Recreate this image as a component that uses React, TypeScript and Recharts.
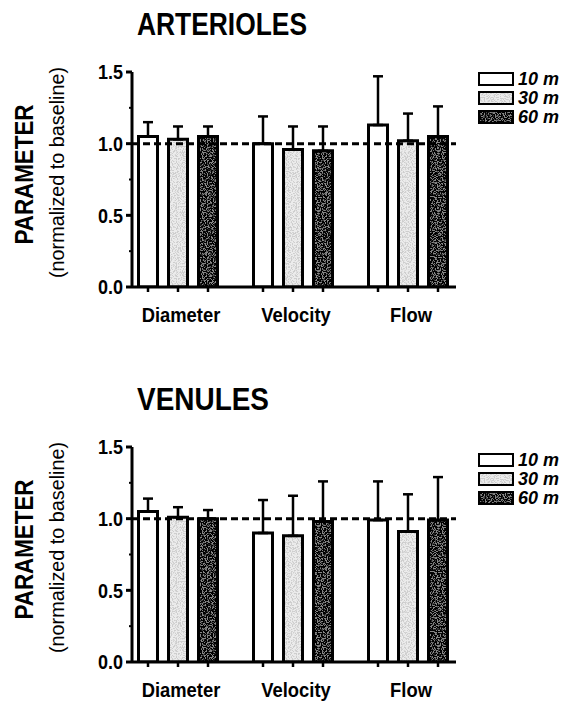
import React from "react";
import { BarChart, Bar, XAxis, YAxis, ErrorBar, ReferenceLine, Legend } from "recharts";

const FONT = "'Liberation Sans', Arial, Helvetica, sans-serif";

/* categories, legend names, y ticks */
const categories = ["Diameter", "Velocity", "Flow"];
const seriesNames = ["10 m", "30 m", "60 m"];
const yTicks = [0, 0.25, 0.5, 0.75, 1, 1.25, 1.5];

/* arterioles: mean and SD (upper error only) */
const art10 = [1.05, 1.0, 1.13];
const art10Sd = [0.1, 0.19, 0.34];
const art30 = [1.03, 0.96, 1.02];
const art30Sd = [0.09, 0.16, 0.19];
const art60 = [1.05, 0.95, 1.05];
const art60Sd = [0.07, 0.17, 0.21];

/* venules */
const ven10 = [1.05, 0.9, 0.99];
const ven10Sd = [0.09, 0.23, 0.27];
const ven30 = [1.01, 0.88, 0.91];
const ven30Sd = [0.07, 0.28, 0.26];
const ven60 = [1.0, 0.98, 0.99];
const ven60Sd = [0.06, 0.28, 0.3];

const BAR_SIZE = 19;
const BAR_GAP = 11;
const STEP = BAR_SIZE + BAR_GAP;
const fills = ["#ffffff", "url(#speckLight)", "url(#speckDark)"];

function buildRows(m: number[][], sd: number[][]) {
  return categories.map((name, i) => ({
    name,
    m10: m[0][i],
    m30: m[1][i],
    m60: m[2][i],
    e10: [0, sd[0][i]],
    e30: [0, sd[1][i]],
    e60: [0, sd[2][i]],
  }));
}

const artRows = buildRows([art10, art30, art60], [art10Sd, art30Sd, art60Sd]);
const venRows = buildRows([ven10, ven30, ven60], [ven10Sd, ven30Sd, ven60Sd]);

/* stippled fills for the grey bars */
function Grain() {
  return (
    <svg width={0} height={0} style={{ position: "absolute" }}>
      <defs>
        <filter id="grainLight" x="0" y="0" width="60" height="60" filterUnits="userSpaceOnUse">
          <feTurbulence type="fractalNoise" baseFrequency="0.8" numOctaves={2} seed={7} stitchTiles="stitch" />
          <feColorMatrix type="matrix" values="0 0 0 0 0.62  0 0 0 0 0.62  0 0 0 0 0.62  9 0 0 0 -4.3" />
        </filter>
        <filter id="grainDark" x="0" y="0" width="60" height="60" filterUnits="userSpaceOnUse">
          <feTurbulence type="fractalNoise" baseFrequency="0.8" numOctaves={2} seed={3} stitchTiles="stitch" />
          <feColorMatrix type="matrix" values="0 0 0 0 0  0 0 0 0 0  0 0 0 0 0  9 0 0 0 -3.7" />
        </filter>
        <pattern id="speckLight" width="60" height="60" patternUnits="userSpaceOnUse">
          <rect width="60" height="60" fill="#ececec" />
          <rect width="60" height="60" fill="#000" filter="url(#grainLight)" />
        </pattern>
        <pattern id="speckDark" width="60" height="60" patternUnits="userSpaceOnUse">
          <rect width="60" height="60" fill="#858585" />
          <rect width="60" height="60" fill="#000" filter="url(#grainDark)" />
        </pattern>
      </defs>
    </svg>
  );
}

const YTick = ({ x, y, payload }: any) => {
  const axisX = x + 8;
  const v = payload.value;
  const major = Math.abs(v * 2 - Math.round(v * 2)) < 1e-6;
  return (
    <g>
      <line x1={axisX - (major ? 6 : 3)} x2={axisX} y1={y} y2={y} stroke="#000" strokeWidth={major ? 3 : 2} />
      {major && (
        <text
          transform={`translate(${axisX - 9},${y}) scale(0.9,1)`}
          dy="0.36em"
          textAnchor="end"
          fontFamily={FONT}
          fontWeight="bold"
          fontSize={20}
          fill="#000"
        >
          {v.toFixed(1)}
        </text>
      )}
    </g>
  );
};

const XTick = ({ x, y, payload }: any) => {
  const axisY = y - 8;
  return (
    <g>
      {[-1, 0, 1].map((k) => (
        <line key={k} x1={x + k * STEP} x2={x + k * STEP} y1={axisY} y2={axisY + 5} stroke="#000" strokeWidth={2.5} />
      ))}
      <text
        transform={`translate(${x + 3},${axisY + 35}) scale(0.92,1)`}
        textAnchor="middle"
        fontFamily={FONT}
        fontWeight="bold"
        fontSize={20}
        fill="#000"
      >
        {payload.value}
      </text>
    </g>
  );
};

const YTitle = ({ viewBox }: any) => {
  const cy = viewBox.y + viewBox.height / 2;
  return (
    <g fill="#000" fontFamily={FONT}>
      <text
        transform={`translate(33,${cy - 5}) rotate(-90)`}
        textAnchor="middle"
        fontWeight="bold"
        fontSize={25}
        textLength={140}
        lengthAdjust="spacingAndGlyphs"
      >
        PARAMETER
      </text>
      <text
        transform={`translate(64,${cy - 7}) rotate(-90)`}
        textAnchor="middle"
        fontSize={20}
        textLength={211}
        lengthAdjust="spacingAndGlyphs"
      >
        (normalized to baseline)
      </text>
    </g>
  );
};

const LegendList = ({ payload }: any) => (
  <div style={{ fontFamily: FONT }}>
    {(payload || []).map((e: any, i: number) => (
      <div key={e.value} style={{ display: "flex", alignItems: "center", height: 19 }}>
        <svg width={36} height={14}>
          <rect x={1} y={1} width={34} height={12} fill={fills[i]} stroke="#000" strokeWidth={2} />
        </svg>
        <span style={{ marginLeft: 4, fontSize: 18, fontWeight: "bold", fontStyle: "italic", lineHeight: "19px" }}>
          {e.value}
        </span>
      </div>
    ))}
  </div>
);

function Panel({ title, titleWidth, rows, top, legendTop }: any) {
  return (
    <div style={{ position: "absolute", left: 0, top, width: 563, height: 326 }}>
      <svg width={563} height={50} style={{ position: "absolute", left: 0, top: 0 }}>
        <text x={137} y={35} fontFamily={FONT} fontWeight="bold" fontSize={32} textLength={titleWidth} lengthAdjust="spacingAndGlyphs">
          {title}
        </text>
      </svg>
      <BarChart
        width={563}
        height={326}
        data={rows}
        margin={{ top: 72, right: 107, left: 72, bottom: 0 }}
        barSize={BAR_SIZE}
        barGap={BAR_GAP}
      >
        <XAxis
          dataKey="name"
          height={39}
          padding={{ left: -11.5, right: -9.5 }}
          tickLine={false}
          tickSize={6}
          tickMargin={2}
          axisLine={{ stroke: "#000", strokeWidth: 3 }}
          tick={(p: any) => <XTick {...p} />}
          interval={0}
        />
        <YAxis
          type="number"
          domain={[0, 1.5]}
          ticks={yTicks}
          interval={0}
          allowDataOverflow
          width={60}
          tickLine={false}
          tickSize={6}
          tickMargin={2}
          axisLine={{ stroke: "#000", strokeWidth: 3 }}
          tick={(p: any) => <YTick {...p} />}
          label={{ content: (p: any) => <YTitle {...p} /> }}
        />
        <Legend
          layout="vertical"
          align="center"
          verticalAlign="middle"
          wrapperStyle={{ left: 478, top: legendTop, width: 85 }}
          content={(p: any) => <LegendList {...p} />}
        />
        {["m10", "m30", "m60"].map((key, i) => (
          <Bar
            key={key}
            dataKey={key}
            name={seriesNames[i]}
            fill={fills[i]}
            stroke="#000"
            strokeWidth={3}
            isAnimationActive={false}
          >
            <ErrorBar dataKey={"e" + key.slice(1)} width={5} stroke="#000" strokeWidth={2.5} direction="y" />
          </Bar>
        ))}
        <ReferenceLine y={1} stroke="#000" strokeWidth={3} strokeDasharray="7 4" />
      </BarChart>
    </div>
  );
}

export default function App() {
  return (
    <div style={{ position: "absolute", left: 0, top: 0, width: 563, height: 701, background: "#fff" }}>
      <Grain />
      <Panel title="ARTERIOLES" titleWidth={170} rows={artRows} top={0} legendTop={69.5} />
      <Panel title="VENULES" titleWidth={132} rows={venRows} top={375} legendTop={75.5} />
    </div>
  );
}
